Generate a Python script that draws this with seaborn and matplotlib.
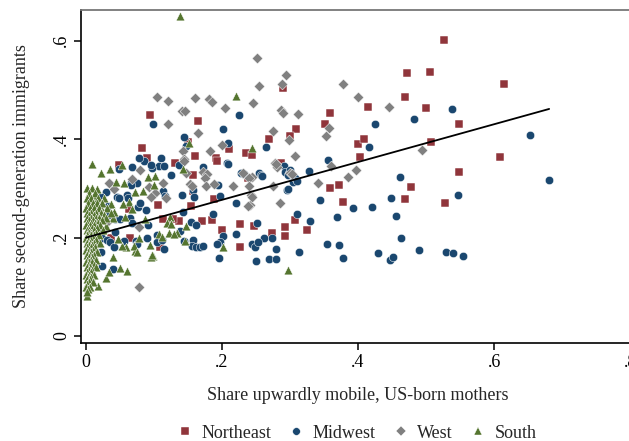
import matplotlib
matplotlib.use("Agg")
import matplotlib.pyplot as plt
import seaborn as sns
import pandas as pd
from matplotlib.lines import Line2D

sns.set_theme(style="white")
plt.rcParams['font.family'] = ['Liberation Serif', 'DejaVu Serif']

# ---------------- data ----------------
regions = ["Northeast", "Midwest", "West", "South"]

ne_x = [0.094, 0.165, 0.082, 0.090, 0.049, 0.150, 0.160, 0.191, 0.193, 0.210, 0.235, 0.244, 0.131,
        0.157, 0.526, 0.472, 0.506, 0.469, 0.415, 0.500, 0.290, 0.359, 0.309, 0.351, 0.269, 0.300,
        0.400, 0.409, 0.403, 0.507, 0.287, 0.615, 0.549, 0.609, 0.549, 0.528, 0.359, 0.372, 0.378,
        0.478, 0.469, 0.247, 0.307, 0.293, 0.325, 0.274, 0.293, 0.157, 0.154, 0.188, 0.238, 0.113,
        0.137, 0.171, 0.185, 0.200, 0.226, 0.226, 0.106, 0.063, 0.013, 0.037, 0.065, 0.109, 0.128]
ne_y = [0.449, 0.437, 0.382, 0.362, 0.348, 0.394, 0.366, 0.362, 0.356, 0.380, 0.372, 0.368, 0.352,
        0.327, 0.602, 0.535, 0.537, 0.486, 0.465, 0.463, 0.504, 0.453, 0.421, 0.431, 0.400, 0.407,
        0.390, 0.400, 0.364, 0.394, 0.352, 0.512, 0.431, 0.364, 0.333, 0.270, 0.301, 0.307, 0.272,
        0.303, 0.278, 0.224, 0.236, 0.222, 0.215, 0.209, 0.203, 0.295, 0.264, 0.278, 0.321, 0.238,
        0.234, 0.234, 0.236, 0.215, 0.228, 0.181, 0.266, 0.258, 0.238, 0.199, 0.199, 0.181, 0.238]

mw_x = [0.099, 0.225, 0.201, 0.144, 0.147, 0.209, 0.207, 0.110, 0.107, 0.115, 0.097, 0.085, 0.068,
        0.049, 0.172, 0.137, 0.125, 0.228, 0.254, 0.232, 0.265, 0.356, 0.425, 0.416, 0.482, 0.291,
        0.293, 0.299, 0.328, 0.257, 0.462, 0.538, 0.653, 0.681, 0.547, 0.529, 0.540, 0.554, 0.304,
        0.300, 0.296, 0.344, 0.393, 0.421, 0.449, 0.456, 0.369, 0.310, 0.329, 0.251, 0.463, 0.262,
        0.274, 0.244, 0.249, 0.253, 0.279, 0.313, 0.354, 0.372, 0.378, 0.250, 0.269, 0.279, 0.429,
        0.447, 0.451, 0.490, 0.259, 0.297, 0.307, 0.310, 0.297, 0.113, 0.116, 0.141, 0.157, 0.159,
        0.197, 0.221, 0.194, 0.209, 0.143, 0.187, 0.154, 0.162, 0.138, 0.221, 0.201, 0.157, 0.144,
        0.197, 0.193, 0.156, 0.162, 0.168, 0.172, 0.115, 0.196, 0.078, 0.096, 0.066, 0.029, 0.022,
        0.013, 0.010, 0.010, 0.046, 0.060, 0.076, 0.088, 0.032, 0.043, 0.021, 0.050, 0.065, 0.043,
        0.068, 0.022, 0.024, 0.031, 0.035, 0.041, 0.056, 0.074, 0.090, 0.104, 0.075, 0.104, 0.112,
        0.091, 0.079, 0.062, 0.049, 0.075, 0.066, 0.032, 0.040, 0.024, 0.022, 0.010]
mw_y = [0.431, 0.449, 0.421, 0.405, 0.386, 0.392, 0.352, 0.362, 0.346, 0.346, 0.342, 0.356, 0.344,
        0.340, 0.344, 0.348, 0.327, 0.331, 0.331, 0.329, 0.384, 0.358, 0.431, 0.384, 0.441, 0.346,
        0.333, 0.331, 0.335, 0.327, 0.323, 0.461, 0.409, 0.317, 0.287, 0.171, 0.169, 0.163, 0.313,
        0.337, 0.297, 0.276, 0.260, 0.262, 0.281, 0.244, 0.242, 0.248, 0.234, 0.230, 0.199, 0.199,
        0.199, 0.187, 0.181, 0.191, 0.177, 0.171, 0.187, 0.185, 0.159, 0.152, 0.157, 0.157, 0.169,
        0.155, 0.161, 0.175, 0.325, 0.327, 0.321, 0.315, 0.299, 0.295, 0.285, 0.287, 0.297, 0.283,
        0.285, 0.270, 0.307, 0.350, 0.252, 0.248, 0.232, 0.226, 0.213, 0.207, 0.203, 0.195, 0.193,
        0.191, 0.187, 0.183, 0.181, 0.181, 0.183, 0.177, 0.159, 0.362, 0.348, 0.311, 0.293, 0.283,
        0.270, 0.260, 0.246, 0.283, 0.287, 0.262, 0.256, 0.246, 0.238, 0.250, 0.238, 0.240, 0.211,
        0.230, 0.209, 0.199, 0.195, 0.191, 0.181, 0.193, 0.193, 0.199, 0.205, 0.187, 0.191, 0.195,
        0.226, 0.270, 0.281, 0.281, 0.311, 0.307, 0.264, 0.136, 0.142, 0.171, 0.213]

west_x = [0.104, 0.121, 0.160, 0.181, 0.185, 0.204, 0.246, 0.251, 0.254, 0.141, 0.146, 0.121, 0.165,
          0.200, 0.143, 0.182, 0.144, 0.079, 0.147, 0.172, 0.178, 0.244, 0.068, 0.294, 0.288, 0.378,
          0.400, 0.446, 0.287, 0.290, 0.312, 0.275, 0.357, 0.299, 0.353, 0.307, 0.278, 0.281, 0.360,
          0.300, 0.303, 0.397, 0.494, 0.385, 0.341, 0.275, 0.285, 0.243, 0.241, 0.175, 0.153, 0.156,
          0.176, 0.188, 0.113, 0.118, 0.216, 0.231, 0.240, 0.240, 0.244, 0.238, 0.279, 0.144, 0.034,
          0.041, 0.093, 0.101, 0.096, 0.078, 0.078, 0.031]
west_y = [0.486, 0.478, 0.484, 0.482, 0.476, 0.463, 0.474, 0.565, 0.508, 0.457, 0.457, 0.431, 0.413,
          0.388, 0.376, 0.376, 0.360, 0.337, 0.331, 0.333, 0.329, 0.323, 0.319, 0.530, 0.512, 0.512,
          0.486, 0.465, 0.459, 0.453, 0.451, 0.417, 0.423, 0.398, 0.407, 0.366, 0.352, 0.343, 0.346,
          0.331, 0.329, 0.337, 0.378, 0.323, 0.311, 0.305, 0.270, 0.287, 0.266, 0.321, 0.309, 0.305,
          0.305, 0.309, 0.311, 0.280, 0.305, 0.331, 0.321, 0.305, 0.283, 0.264, 0.350, 0.356, 0.311,
          0.299, 0.303, 0.291, 0.283, 0.222, 0.100, 0.232]

south_x = [0.138, 0.221, 0.151, 0.244, 0.009, 0.022, 0.035, 0.053, 0.101, 0.143, 0.297, 0.016, 0.044,
           0.056, 0.084, 0.072, 0.015, 0.037, 0.063, 0.068, 0.024, 0.004, 0.019, 0.040, 0.057, 0.087,
           0.091, 0.100, 0.012, 0.054, 0.041, 0.124, 0.119, 0.125, 0.147, 0.099, 0.096, 0.072, 0.059,
           0.053, 0.047, 0.029, 0.040, 0.050, 0.060, 0.029, 0.018, 0.107, 0.134, 0.078, 0.146, 0.201,
           0.094, 0.071, 0.122, 0.129, 0.112, 0.075, 0.097, 0.034, 0.001]
south_y = [0.650, 0.488, 0.392, 0.382, 0.350, 0.331, 0.339, 0.348, 0.325, 0.339, 0.134, 0.299, 0.313,
           0.311, 0.295, 0.293, 0.283, 0.268, 0.272, 0.258, 0.256, 0.272, 0.240, 0.240, 0.242, 0.238,
           0.323, 0.307, 0.268, 0.268, 0.252, 0.242, 0.230, 0.228, 0.224, 0.163, 0.161, 0.173, 0.181,
           0.183, 0.197, 0.224, 0.161, 0.138, 0.132, 0.118, 0.102, 0.207, 0.209, 0.199, 0.193, 0.181,
           0.185, 0.183, 0.209, 0.207, 0.201, 0.171, 0.165, 0.130, 0.081]

# dense cluster of southern areas near zero (one row of x values per y value)
south_cluster_y = [0.300, 0.290, 0.280, 0.270, 0.260, 0.250, 0.245, 0.240, 0.235, 0.230, 0.225, 0.220,
                   0.215, 0.210, 0.205, 0.200, 0.195, 0.190, 0.185, 0.180, 0.175, 0.170, 0.165, 0.160,
                   0.155, 0.150, 0.145, 0.140, 0.135, 0.130, 0.125, 0.120, 0.115, 0.110, 0.105, 0.100,
                   0.095, 0.090]
south_cluster_x = [[0.002, 0.009], [0.004, 0.013], [0.001, 0.007, 0.018, 0.027],
                   [0.003, 0.010, 0.016, 0.024], [0.000, 0.006, 0.012, 0.019, 0.031],
                   [0.002, 0.008, 0.015, 0.022, 0.036], [0.005, 0.011, 0.027],
                   [0.001, 0.007, 0.014, 0.019, 0.030], [0.004, 0.010, 0.023],
                   [0.002, 0.008, 0.013, 0.018], [0.000, 0.006, 0.011, 0.021], [0.003, 0.009, 0.016],
                   [0.001, 0.005, 0.011, 0.025], [0.004, 0.008, 0.014], [0.002, 0.007, 0.012, 0.019],
                   [0.000, 0.005, 0.010], [0.003, 0.008, 0.015], [0.001, 0.006, 0.011, 0.021],
                   [0.004, 0.009], [0.002, 0.007, 0.013], [0.000, 0.005, 0.010], [0.003, 0.008, 0.016],
                   [0.001, 0.006, 0.011], [0.004, 0.009], [0.002, 0.007, 0.014], [0.000, 0.005, 0.009],
                   [0.003, 0.011], [0.001, 0.006, 0.015], [0.004, 0.009], [0.002, 0.007],
                   [0.000, 0.005, 0.012], [0.003, 0.008], [0.001, 0.006], [0.004, 0.010], [0.002],
                   [0.000, 0.006], [0.003], [0.001]]

# linear fit (intercept, slope) of the fitted line
fit_intercept = 0.200
fit_slope = 0.384

x_ticks = [0.0, 0.2, 0.4, 0.6, 0.8]
x_ticklabels = ["0", ".2", ".4", ".6", ".8"]
y_ticks = [0.0, 0.2, 0.4, 0.6]
y_ticklabels = ["0", ".2", ".4", ".6"]

# ---------------- build table ----------------
sx = list(south_x)
sy = list(south_y)
for yv, xs in zip(south_cluster_y, south_cluster_x):
    for xv in xs:
        sx.append(xv)
        sy.append(yv)

frames = [
    pd.DataFrame({"x": ne_x, "y": ne_y, "region": "Northeast"}),
    pd.DataFrame({"x": mw_x, "y": mw_y, "region": "Midwest"}),
    pd.DataFrame({"x": west_x, "y": west_y, "region": "West"}),
    pd.DataFrame({"x": sx, "y": sy, "region": "South"}),
]
df = pd.concat(frames, ignore_index=True)

colors = {"Northeast": "#90353b", "Midwest": "#1a476f", "West": "#808080", "South": "#55752f"}
markers = {"Northeast": "s", "Midwest": "o", "West": "D", "South": "^"}
sizes = {"Northeast": 30, "Midwest": 36, "West": 30, "South": 40}

# ---------------- figure ----------------
fig = plt.figure(figsize=(6.29, 4.41), dpi=100)
ax = fig.add_axes([81 / 629, 98 / 441, 562 / 629, 333 / 441])

for r in regions:
    sub = df[df["region"] == r]
    sns.scatterplot(data=sub, x="x", y="y", marker=markers[r], color=colors[r], s=sizes[r],
                    edgecolor="white", linewidth=0.35, ax=ax, legend=False, zorder=3)

xmin, xmax = df["x"].min(), df["x"].max()
ax.plot([xmin, xmax], [fit_intercept + fit_slope * xmin, fit_intercept + fit_slope * xmax],
        color="black", lw=1.3, zorder=5)

ax.set_xlim(-0.0074, 0.819)
ax.set_ylim(-0.0142, 0.6626)
ax.set_xticks(x_ticks)
ax.set_xticklabels(x_ticklabels)
ax.set_yticks(y_ticks)
ax.set_yticklabels(y_ticklabels, rotation=90, va="center")
ax.tick_params(axis="both", direction="out", length=5, width=1.1, color="black",
               labelsize=13, pad=3, labelcolor="black")
ax.tick_params(left=True, bottom=True)
ax.set_xlabel("")
ax.set_ylabel("")

for side in ["left", "bottom"]:
    ax.spines[side].set_color("black")
    ax.spines[side].set_linewidth(1.2)
ax.spines["top"].set_color("#777777")
ax.spines["top"].set_linewidth(1.3)
ax.spines["right"].set_visible(False)

fig.text(358 / 629, 1 - 396 / 441, "Share upwardly mobile, US-born mothers",
         ha="center", va="center", fontsize=13)
fig.text(22 / 629, 1 - 176 / 441, "Share second-generation immigrants",
         ha="center", va="center", rotation=90, fontsize=13)

handles = [Line2D([0], [0], marker=markers[r], color="none", markerfacecolor=colors[r],
                  markeredgecolor="white", markeredgewidth=0.3, markersize=5.5)
           for r in regions]
fig.legend(handles, regions, loc="center", bbox_to_anchor=(357 / 629, 1 - 433 / 441), ncol=4,
           frameon=False, fontsize=13, handlelength=0.8, handletextpad=0.5, columnspacing=1.0)

fig.savefig("out.png", dpi=100, facecolor="white")
